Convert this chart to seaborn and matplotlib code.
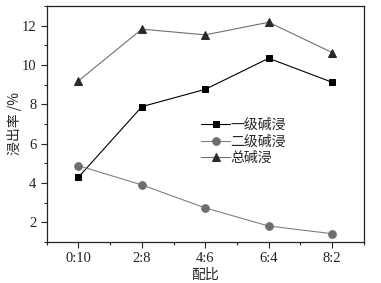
import matplotlib
matplotlib.use("Agg")
import matplotlib.pyplot as plt
from matplotlib.ticker import MultipleLocator
import seaborn as sns
import pandas as pd

ratios = ["0:10", "2:8", "4:6", "6:4", "8:2"]
primary = [4.29, 7.88, 8.76, 10.34, 9.12]
secondary = [4.88, 3.90, 2.73, 1.81, 1.42]
total = [9.19, 11.82, 11.53, 12.17, 10.63]
series_names = ["一级碱浸", "二级碱浸", "总碱浸"]

sns.set_style("ticks")
plt.rcParams['font.family'] = ['Liberation Serif', 'Noto Sans CJK SC', 'DejaVu Sans']
plt.rcParams['axes.unicode_minus'] = False

fig = plt.figure(figsize=(3.81, 2.83), dpi=100)
ax = fig.add_axes([0.1226, 0.145, 0.8324, 0.834])

x = list(range(len(ratios)))
styles = [
    (primary, "s", "#000000", "#000000", 5),
    (secondary, "o", "#6e6e6e", "#808080", 5.5),
    (total, "^", "#2a2a2a", "#707070", 6),
]
for name, (vals, mk, mc, lc, ms) in zip(series_names, styles):
    df = pd.DataFrame({"x": x, "y": vals})
    sns.lineplot(data=df, x="x", y="y", ax=ax, color=lc, lw=0.8,
                 marker=mk, markersize=ms, markerfacecolor=mc,
                 markeredgecolor=mc, label=name)

ax.set_xlim(-0.5, 4.5)
ax.set_ylim(1, 13)
ax.set_xticks(x)
ax.set_xticklabels(ratios)
ax.xaxis.set_minor_locator(MultipleLocator(0.5))
ax.set_yticks([2, 4, 6, 8, 10, 12])
ax.yaxis.set_minor_locator(MultipleLocator(1))
ax.tick_params(which="major", direction="out", length=4, width=0.8, labelsize=10.5, colors="#222222")
ax.tick_params(which="minor", direction="out", length=2.5, width=0.8)
for s in ax.spines.values():
    s.set_linewidth(0.9)
    s.set_color("#222222")

ax.set_xlabel("配比", fontsize=10, family=['Noto Sans CJK SC'], labelpad=2)
ax.set_ylabel("浸出率 /%", fontsize=10, family=['Noto Sans CJK SC', 'Liberation Serif'], labelpad=0)

leg = ax.legend(loc="upper left", bbox_to_anchor=(0.47, 0.55), frameon=False,
                handlelength=2.1, handletextpad=0.0, labelspacing=0.2,
                prop={'family': ['Noto Sans CJK SC'], 'size': 10}, borderaxespad=0)

fig.savefig("out.png", dpi=100)
